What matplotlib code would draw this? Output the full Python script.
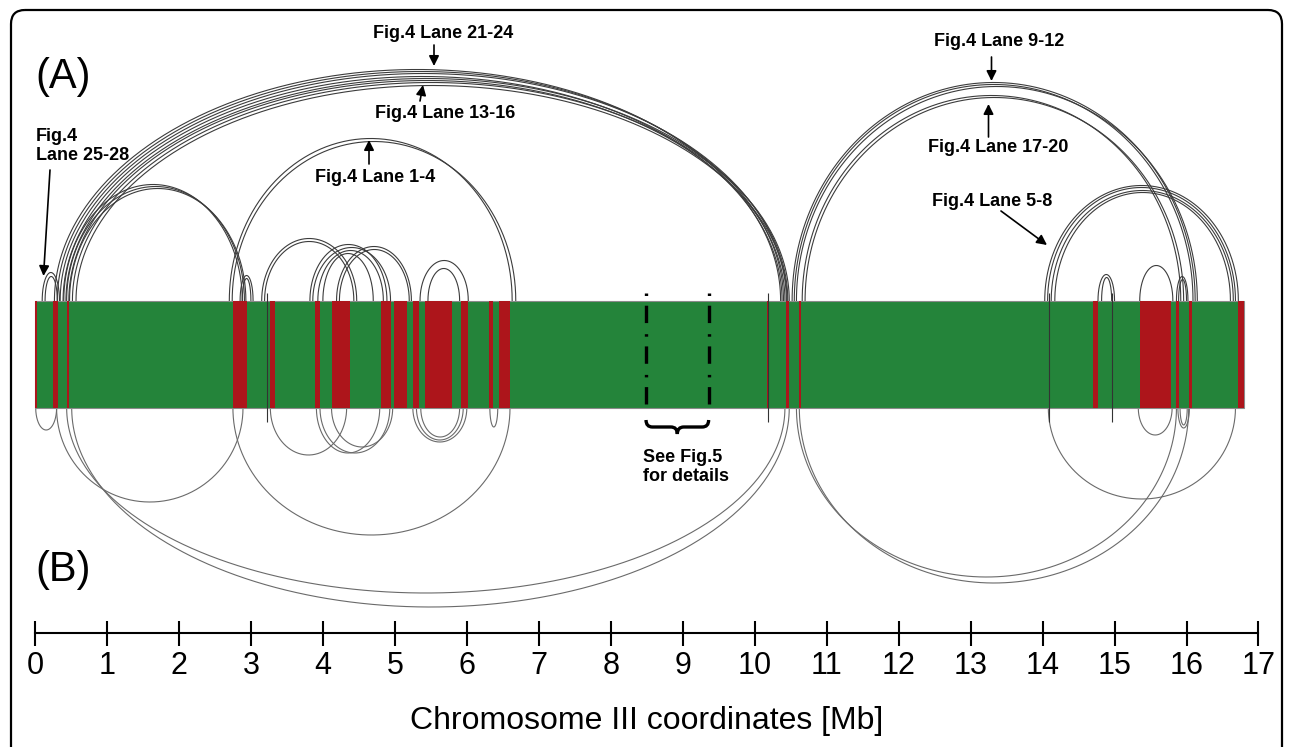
import numpy as np
import matplotlib
matplotlib.use("Agg")
import matplotlib.pyplot as plt
from matplotlib.patches import FancyBboxPatch, Rectangle, PathPatch
from matplotlib.path import Path

# ---------------- data ----------------
chrom_length = 16.80  # Mb

red_start = [0.00, 0.254, 0.45, 2.755, 3.265, 3.895, 4.12, 4.81, 4.99, 5.256, 5.42,
             5.92, 6.31, 6.45, 10.17, 10.43, 10.61, 14.70, 15.35, 15.86, 16.04, 16.72]
red_end = [0.03, 0.315, 0.47, 2.95, 3.335, 3.96, 4.37, 4.94, 5.165, 5.34, 5.80,
           6.01, 6.37, 6.60, 10.20, 10.48, 10.64, 14.77, 15.79, 15.90, 16.07, 16.80]

# interactions drawn above the chromosome (A)
upper_start = [0.10, 0.14,
               0.27, 0.31, 0.35, 0.39, 0.43, 0.47, 0.52, 0.57,
               0.40, 0.44, 0.48,
               2.85, 2.88,
               2.70, 2.74,
               3.15, 3.19, 3.82, 3.86, 3.93, 4.00, 4.19, 4.23,
               5.35, 5.46,
               10.52, 10.55, 10.58, 10.66, 10.70,
               14.03, 14.07, 14.12, 14.17,
               14.77, 14.82, 15.35, 15.86, 15.89]
upper_end = [0.34, 0.31,
             10.36, 10.40, 10.44, 10.38, 10.46, 10.42, 10.48, 10.45,
             2.88, 2.91, 2.93,
             3.03, 3.00,
             6.63, 6.68,
             4.47, 4.43, 4.89, 4.94, 4.84, 4.70, 5.23, 5.20,
             6.02, 5.90,
             16.12, 16.09, 16.15, 15.92, 15.96,
             16.72, 16.68, 16.65, 16.61,
             15.00, 14.96, 15.81, 16.02, 16.00]
upper_height = [28, 24,
                231, 229, 227, 224, 222, 220, 218, 215,
                116, 114, 112,
                25, 22,
                162, 159,
                62, 59, 56, 53, 50, 47, 54, 51,
                40, 32,
                218, 216, 214, 205, 203,
                115, 113, 110, 108,
                26, 23, 35, 24, 21]

# interactions drawn below the chromosome (B)
lower_start = [0.01, 0.30, 0.44, 0.51, 2.75, 3.27, 3.91, 3.96, 4.12,
               5.25, 5.30, 5.36, 6.32, 10.58, 10.62, 14.08, 15.33, 15.88, 15.91]
lower_end = [0.30, 2.89, 10.42, 10.48, 6.60, 4.33, 4.79, 4.93, 4.97,
             6.00, 5.95, 5.90, 6.43, 15.86, 16.03, 16.68, 15.80, 16.04, 16.01]
lower_depth = [22, 94, 185, 199, 127, 47, 45, 45, 39,
               34, 32, 29, 19, 169, 175, 91, 27, 20, 17]

cut_lines = [3.22, 10.19, 14.09, 14.96]
fig5_region = [8.49, 9.36]

tick_values = list(range(0, 18))
tick_labels = [str(v) for v in tick_values]

# ---------------- layout ----------------
W, H = 1293, 747
PX0, PPM = 35.0, 71.97          # pixel of 0 Mb, pixels per Mb
BAR_TOP, BAR_BOT = 300.5, 408.0
AXIS_Y = 633

green = "#24843a"
red = "#ad151b"
arc_up = "#3c3c3c"
arc_low = "#6a6a6a"
ann_font = ["Liberation Sans Narrow", "Liberation Sans", "DejaVu Sans"]
main_font = ["Liberation Sans", "DejaVu Sans"]
ANN_SIZE = 13

fig = plt.figure(figsize=(W / 100, H / 100), dpi=100)
ax = fig.add_axes([0, 0, 1, 1])
ax.set_xlim(-PX0 / PPM, (W - PX0) / PPM)
ax.set_ylim(H, 0)
ax.patch.set_visible(False)

t = np.linspace(0, np.pi, 300)
for s, e, h in zip(upper_start, upper_end, upper_height):
    c, a = (s + e) / 2, (e - s) / 2
    ax.plot(c + a * np.cos(t), BAR_TOP - h * np.sin(t), color=arc_up, lw=0.8, zorder=2)
for s, e, d in zip(lower_start, lower_end, lower_depth):
    c, a = (s + e) / 2, (e - s) / 2
    ax.plot(c + a * np.cos(t), BAR_BOT + d * np.sin(t), color=arc_low, lw=0.8, zorder=2)

# chromosome bar
ax.add_patch(Rectangle((0, BAR_TOP), chrom_length, BAR_BOT - BAR_TOP,
                       facecolor=green, edgecolor="#8a8a8a", lw=0.8, zorder=3))
ax.broken_barh([(s, e - s) for s, e in zip(red_start, red_end)],
               (BAR_TOP, BAR_BOT - BAR_TOP), facecolors=red, zorder=4)
ax.vlines(cut_lines, BAR_TOP - 8, BAR_BOT + 14, color="#333333", lw=0.8, zorder=5)

# Fig.5 region markers
plt.rcParams["lines.scale_dashes"] = False
for xv in fig5_region:
    ax.plot([xv, xv], [293, BAR_BOT], color="black", lw=2.4, solid_capstyle="butt",
            dash_capstyle="butt", linestyle=(0, (1.8, 7.0, 12.5, 8.0)), zorder=6)
xl, xr = fig5_region
xm = (xl + xr) / 2
y0, hb, dd = 420, 14, 0.09
verts = [(xl, y0), (xl, y0 + hb / 2), (xl + dd, y0 + hb / 2), (xm - dd, y0 + hb / 2),
         (xm, y0 + hb / 2), (xm, y0 + hb), (xm, y0 + hb / 2), (xm + dd, y0 + hb / 2),
         (xr - dd, y0 + hb / 2), (xr, y0 + hb / 2), (xr, y0)]
codes = [Path.MOVETO, Path.CURVE3, Path.CURVE3, Path.LINETO, Path.CURVE3, Path.CURVE3,
         Path.CURVE3, Path.CURVE3, Path.LINETO, Path.CURVE3, Path.CURVE3]
ax.add_patch(PathPatch(Path(verts, codes), fc="none", ec="black", lw=2.4, zorder=6))
ax.text(8.448, 467, "See Fig.5\nfor details", ha="left", va="center", fontsize=ANN_SIZE,
        fontweight="bold", family=ann_font, linespacing=1.15)

# annotations
def mb(px):
    return (px - PX0) / PPM

def arrow(x1, y1, x2, y2):
    ax.annotate("", xy=(mb(x2), y2), xytext=(mb(x1), y1),
                arrowprops=dict(arrowstyle="-|>", color="black", lw=1.2,
                                mutation_scale=15, shrinkA=0, shrinkB=0), zorder=7)

def label(px, py, s, ha="center"):
    ax.text(mb(px), py, s, ha=ha, va="center", fontsize=ANN_SIZE, fontweight="bold",
            family=ann_font, linespacing=1.2, zorder=7)

label(443, 34, "Fig.4 Lane 21-24"); arrow(434, 45, 434, 66)
label(445, 113, "Fig.4 Lane 13-16"); arrow(420, 101, 423, 85)
label(375, 178, "Fig.4 Lane 1-4"); arrow(369, 164, 369, 140)
label(36, 146, "Fig.4\nLane 25-28", ha="left"); arrow(50, 170, 43.5, 276)
label(999, 42, "Fig.4 Lane 9-12"); arrow(991.5, 57, 991.5, 81)
label(998, 148, "Fig.4 Lane 17-20"); arrow(988.5, 137, 988.5, 104)
label(992, 202, "Fig.4 Lane 5-8"); arrow(1001, 211, 1047, 245)

ax.text(mb(35), 77, "(A)", ha="left", va="center", fontsize=30, family=main_font)
ax.text(mb(35), 570, "(B)", ha="left", va="center", fontsize=30, family=main_font)

# coordinate axis
for side in ["left", "right", "top"]:
    ax.spines[side].set_visible(False)
ax.spines["bottom"].set_position(("data", AXIS_Y))
ax.spines["bottom"].set_bounds(0, 17)
ax.spines["bottom"].set_linewidth(1.5)
ax.set_yticks([])
ax.set_xticks(tick_values)
ax.set_xticklabels(tick_labels, fontsize=22, family=main_font)
ax.tick_params(axis="x", direction="inout", length=18, width=1.5, pad=4)
ax.set_xlabel("Chromosome III coordinates [Mb]", fontsize=23, family=main_font)
ax.xaxis.set_label_coords(PX0 / W + 17 * PPM / W / 2, 1 - 706 / H)

# frame
fax = fig.add_axes([0, 0, 1, 1], zorder=10)
fax.set_xlim(0, W)
fax.set_ylim(H, 0)
fax.axis("off")
fax.add_patch(FancyBboxPatch((11, 10), W - 22, H + 40,
                             boxstyle="round,pad=0,rounding_size=14",
                             fc="none", ec="black", lw=1.6))

fig.savefig("out.png", dpi=100)
